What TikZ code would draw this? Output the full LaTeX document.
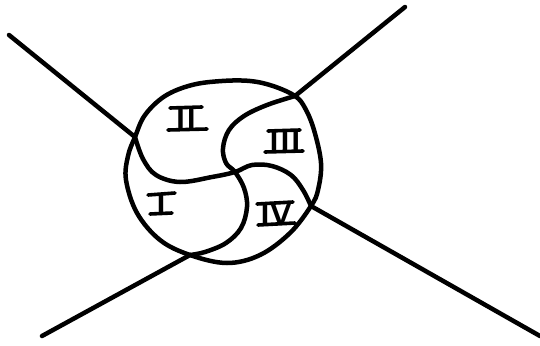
\documentclass[tikz,border=0pt]{standalone}
\begin{document}
\begin{tikzpicture}[x=1pt,y=-1pt,
  ink/.style={line width=4.5pt,line cap=round,line join=round,black},
  bar/.style={line width=3.6pt,line cap=round,black},
  numeral/.style={font=\fontsize{30}{30}\selectfont\sffamily\bfseries,inner sep=0pt,text depth=0pt}]
\useasboundingbox (0,0) rectangle (540,345);
% junctions on the circle
\coordinate (J1) at (135,137);
\coordinate (J2) at (295,96);
\coordinate (J3) at (311,206);
\coordinate (J4) at (190,255);
\coordinate (C) at (235,172);
% outer ends of rays
\coordinate (E1) at (9,35);
\coordinate (E2) at (405,7);
\coordinate (E3) at (540,336);
\coordinate (E4) at (42,336);
% rays
\draw[ink] (E1) -- (J1);
\draw[ink] (E2) -- (J2);
\draw[ink] (J3) -- (E3);
\draw[ink] (E4) -- (J4);
% circle
\draw[ink] plot[smooth cycle,tension=0.6] coordinates {(145,115) (165,96) (192,85) (222,81) (250,81) (273,86) (J2) (305,108) (314,130) (321,163) (318,190) (J3) (290,233) (260,255) (227,263) (J4) (160,240) (137,213) (126,180) (128,156) (J1)};
% pinwheel curves (two S-curves crossing at the centre)
\draw[ink] plot[smooth,tension=0.6] coordinates {(J1) (143,159) (156,175) (180,182) (212,177) (C) (252,165) (272,166) (291,175) (303,190) (J3)};
\draw[ink] plot[smooth,tension=0.6] coordinates {(J2) (267,105) (244,116) (229,130) (223,148) (226,163) (C) (244,188) (247,207) (241,228) (226,243) (205,252) (J4)};
% labels
\node[numeral] (n2) at (186,119) {II};
\draw[bar] ([shift={(-16,-11)}]n2.center) -- ([shift={(16,-12)}]n2.center);
\draw[bar] ([shift={(-18,11)}]n2.center) -- ([shift={(21,10)}]n2.center);
\node[numeral] (n3) at (285,141) {III};
\draw[bar] ([shift={(-17,-10)}]n3.center) -- ([shift={(15,-11)}]n3.center);
\draw[bar] ([shift={(-20,11)}]n3.center) -- ([shift={(18,10)}]n3.center);
\node[numeral] (n1) at (161,204) {I};
\draw[bar] ([shift={(-13,-9)}]n1.center) -- ([shift={(14,-11)}]n1.center);
\draw[bar] ([shift={(-11,10)}]n1.center) -- ([shift={(11,9)}]n1.center);
\node[numeral] (n4) at (276,214) {IV};
\draw[bar] ([shift={(-19,-10)}]n4.center) -- ([shift={(17,-12)}]n4.center);
\draw[bar] ([shift={(-18,11)}]n4.center) -- ([shift={(19,9)}]n4.center);
\end{tikzpicture}
\end{document}
